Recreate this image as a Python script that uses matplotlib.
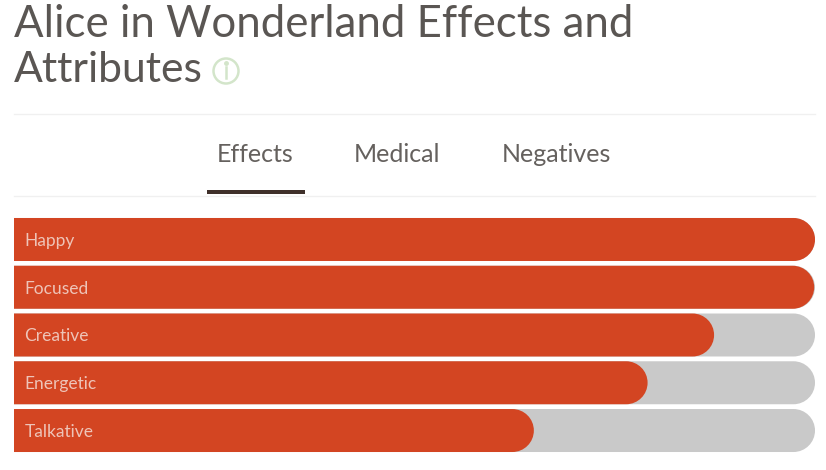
import matplotlib
matplotlib.use("Agg")
import matplotlib.pyplot as plt
from matplotlib.path import Path
from matplotlib.patches import PathPatch, Circle

plt.rcParams['font.family'] = ['Lato', 'DejaVu Sans']

W, H = 826, 470

effects = ['Happy', 'Focused', 'Creative', 'Energetic', 'Talkative']
scores = [100, 99.9, 87.4, 79.1, 64.9]
track = [100, 100, 100, 100, 100]
tabs = ['Effects', 'Medical', 'Negatives']
tab_x = [255, 397, 556]
title_lines = ['Alice in Wonderland Effects and', 'Attributes']

ORANGE = '#d34522'
GREY = '#c9c9c9'
DARK = '#5a5653'

fig = plt.figure(figsize=(W / 100, H / 100), dpi=100, facecolor='white')

# page layer in pixel coordinates
bg = fig.add_axes([0, 0, 1, 1])
bg.set_xlim(0, W)
bg.set_ylim(H, 0)
bg.axis('off')

bg.text(14, 37, title_lines[0], fontsize=31.5, color=DARK, va='baseline', ha='left')
bg.text(14, 82, title_lines[1], fontsize=30.7, color=DARK, va='baseline', ha='left')

# info icon next to the title
bg.add_patch(Circle((226, 71), 12.5, fill=False, ec='#d3e5ca', lw=1.8))
bg.plot([226, 226], [67, 78], color='#d3e5ca', lw=1.8)
bg.plot([226], [62.5], 'o', color='#d3e5ca', ms=2.5)

# separators
bg.plot([14, 815], [114, 114], color='#f0f0f0', lw=1)
bg.plot([14, 815], [196, 196], color='#f0f0f0', lw=1)

for name, x in zip(tabs, tab_x):
    bg.text(x, 154, name, fontsize=18, color='#65615e', ha='center', va='center')
bg.fill_between([207, 305], 190, 194, color='#3f302a', lw=0)

# bars, value 0-100 across the track
ax = fig.add_axes([14 / W, 1 - 454.4 / H, 801 / W, 238.8 / H])
ax.set_xlim(0, 100)
ax.set_ylim(len(effects) - 0.5, -0.5)
ax.axis('off')

BAR_H = 0.9
RADIUS_X = 21.5 / 8.01


def rounded_bar(y, value, color):
    # square on the left, round on the right
    top, bot = y - BAR_H / 2, y + BAR_H / 2
    x0 = value - RADIUS_X
    k = 0.5523
    verts = [(0, top), (x0, top),
             (x0 + k * RADIUS_X, top), (value, y - k * BAR_H / 2), (value, y),
             (value, y + k * BAR_H / 2), (x0 + k * RADIUS_X, bot), (x0, bot),
             (0, bot), (0, top)]
    codes = [Path.MOVETO, Path.LINETO,
             Path.CURVE4, Path.CURVE4, Path.CURVE4,
             Path.CURVE4, Path.CURVE4, Path.CURVE4,
             Path.LINETO, Path.CLOSEPOLY]
    ax.add_patch(PathPatch(Path(verts, codes), fc=color, ec='none'))


for i, name in enumerate(effects):
    rounded_bar(i, track[i], GREY)
    rounded_bar(i, scores[i], ORANGE)
    ax.text(1.3, i + 0.03, name, fontsize=12.5, color='#eec4b8', va='center', ha='left')

fig.savefig('out.png', dpi=100)
